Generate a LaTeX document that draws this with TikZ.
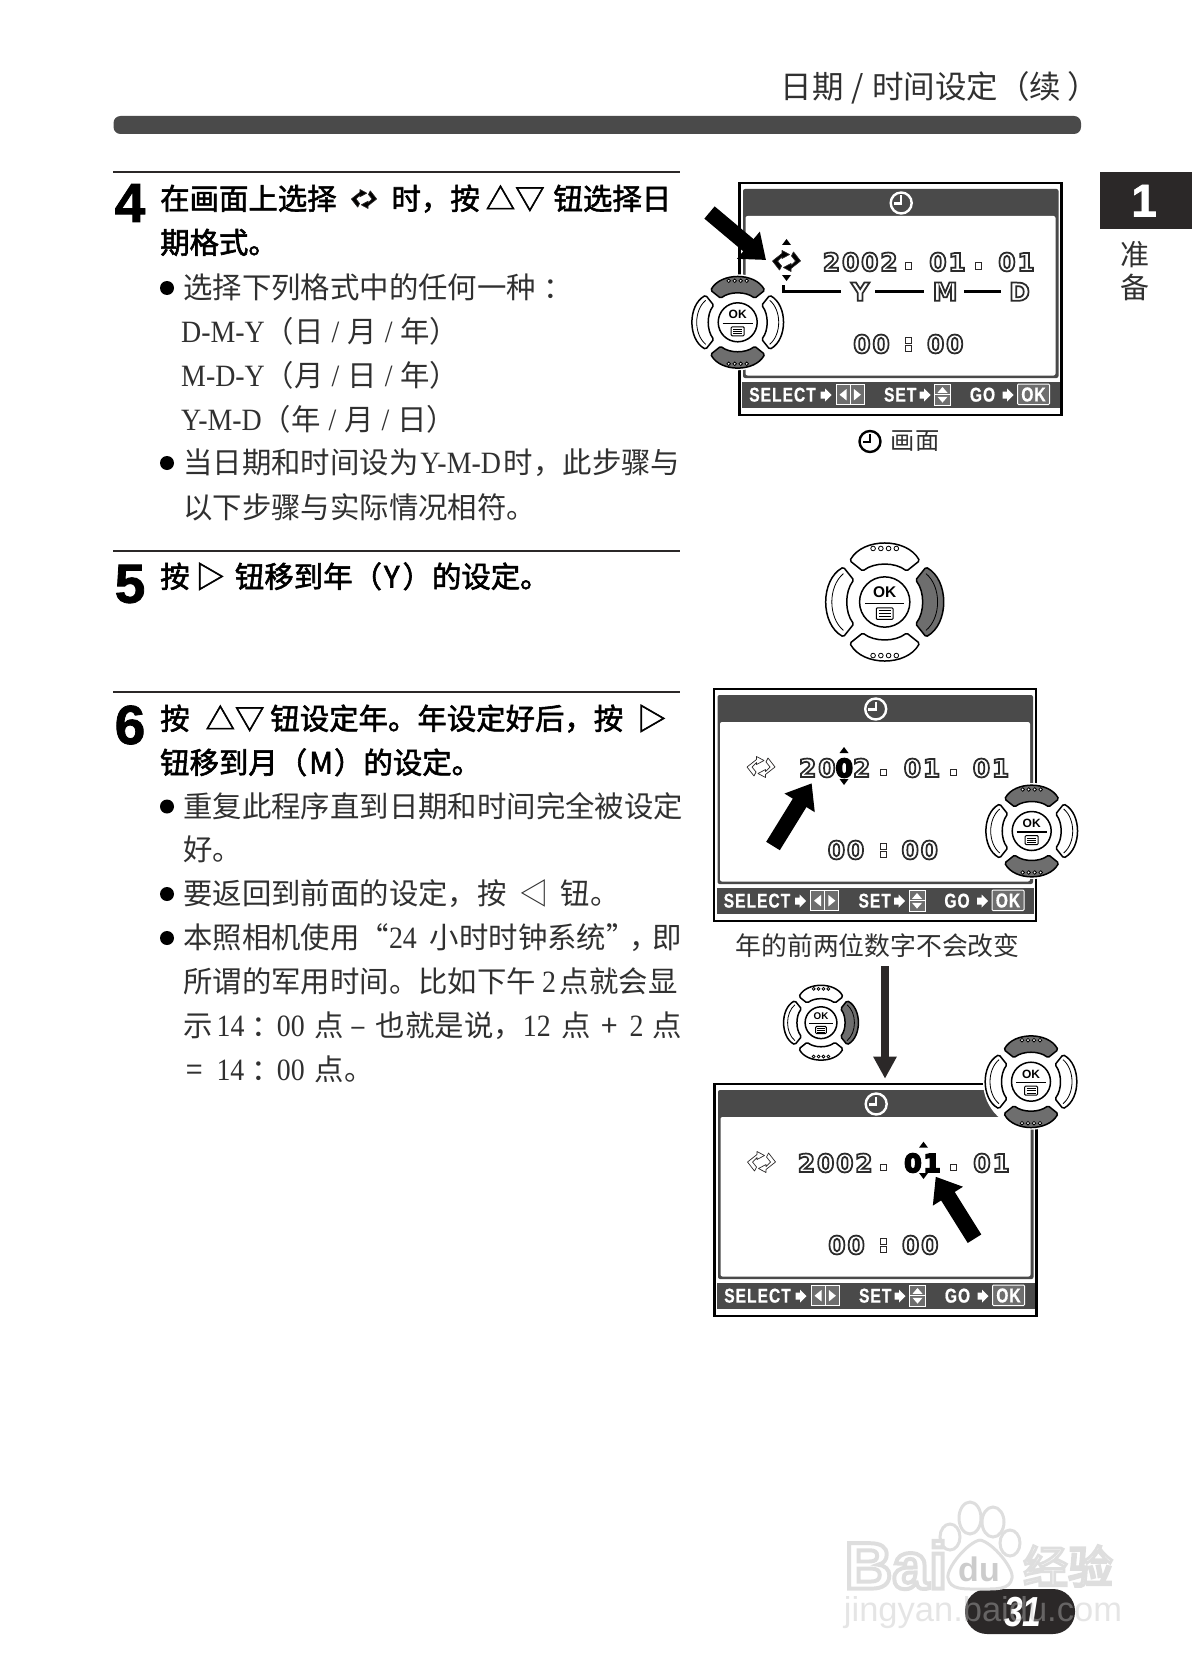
\documentclass[tikz,border=0pt]{standalone}
\usepackage{fontspec}
\usetikzlibrary{arrows.meta}
\setmainfont{Noto Sans CJK SC}[BoldFont={Noto Sans CJK SC},BoldFeatures={FakeBold=2}]
\newfontfamily\serifnum[FakeStretch=0.9]{Liberation Serif}
\newfontfamily\armfont{Liberation Sans}
\newfontfamily\stepfont[BoldFeatures={FakeBold=1.5}]{Liberation Sans}
\newfontfamily\barfont[FakeStretch=0.78,LetterSpace=5,BoldFeatures={FakeBold=0.6}]{Liberation Sans}
\newfontfamily\numfont[LetterSpace=7,BoldFeatures={FakeBold=7}]{DejaVu Sans}
\newfontfamily\markfont[BoldFeatures={FakeBold=6}]{Liberation Sans}
\newfontfamily\markcjk[FakeBold=6]{Noto Sans CJK SC}
\definecolor{lcdgray}{HTML}{4A4A4A}
\definecolor{inkdark}{HTML}{2B2828}
\definecolor{bodyink}{HTML}{303030}
\definecolor{keygray}{HTML}{6E6E6E}
\definecolor{markgray}{HTML}{DEDEDE}
\newcommand\bodysize{\fontsize{29.4pt}{30pt}\selectfont}
\newcommand\latn[1]{{\serifnum\fontsize{31pt}{31pt}\selectfont #1}}
\newcommand\hollow[1]{\special{pdf:bcolor [1] [0.17]}#1\special{pdf:ecolor}}
\newcommand\solid[1]{\special{pdf:bcolor [0] [0]}#1\special{pdf:ecolor}}
\newcommand\markline[1]{\special{pdf:bcolor [1] [0.87]}#1\special{pdf:ecolor}}
\newcommand\slashgap{\hspace{8pt}\latn{/}\hspace{8pt}}
\newcommand\midcolon{\hspace{7pt}：\hspace{-4pt}}

\tikzset{
  stepnum/.style={inner sep=0,font=\stepfont\bfseries\fontsize{55pt}{55pt}\selectfont},
  boldline/.style={anchor=west,inner sep=0,text height=25pt,text depth=4pt,font=\bodysize\bfseries,text=black},
  bodyline/.style={anchor=west,inner sep=0,text height=25pt,text depth=4pt,font=\bodysize,text=bodyink},
  rulerline/.style={line width=2pt,inkdark},
  dotmark/.style={circle,fill=black,inner sep=0,minimum size=14pt},
  lcdnum/.style={inner sep=0,font=\numfont\bfseries\fontsize{25pt}{25pt}\selectfont},
  lcdsq/.style={draw=inkdark,fill=white,line width=1pt,inner sep=0,minimum size=6pt},
  barlabel/.style={inner sep=0,text=white,font=\barfont\bfseries\fontsize{20pt}{20pt}\selectfont},
  bigarrow/.style={line width=16pt,-{Triangle[length=23pt,width=34pt]}},
  marktext/.style={inner sep=0,text=gray!50,text opacity=0.4},
  pics/syncicon/.style={code={
    \foreach \r in {0,180}{
      \filldraw[rotate=\r,fill=#1,draw=inkdark,line width=0.7pt,line join=round]
        (-4.5,-7.5) -- (-4.5,-10.5) -- (3,-6.5) -- (-4.5,-2.5) -- (-4.5,-4.5) -- (-9,0) -- (-5,5) -- (-7,9) -- (-14,0) -- cycle;
    }
  }},
  pics/lcdtri/.style={code={\fill[black] (-4.5,3) -- (0,-3) -- (4.5,3) -- cycle;}},
  pics/barstep/.style={code={\fill[white] (-5,-3.5) -- (-0.5,-3.5) -- (-0.5,-6.5) -- (6,0) -- (-0.5,6.5) -- (-0.5,3.5) -- (-5,3.5) -- cycle;}},
  pics/clockface/.style={code={
    \draw[#1,line width=2.4pt] (0,0) circle[radius=10.5];
    \draw[#1,line width=2.2pt] (0,-7.5) -- (0,0.5) -- (-7.5,0.5);
  }},
  pics/lcdscreen/.style n args={4}{code={
    \draw[fill=white,line width=2.5pt] (0,0) rectangle (322,232);
    \fill[lcdgray,rounded corners=2pt] (3.5,6) rectangle (319,195);
    \fill[white,rounded corners=2pt] (6,33) rectangle (316,192.5);
    \fill[lcdgray] (2.5,199) rectangle (320,224.5);
    \pic at (161.7,20) {clockface=white};
    % Draw date and time
    \pic at (47,78) {syncicon=#4};
    \node[lcdnum] (-year) at (120.7,79) {#1};
    \node[lcdsq] (-dotA) at (169,83) {};
    \node[lcdnum] (-month) at (208,79) {#2};
    \node[lcdsq] (-dotB) at (239,83) {};
    \node[lcdnum] (-day) at (277,79) {#3};
    \node[lcdnum] (-hour) at (132,161) {\hollow{00}};
    \node[lcdsq] (-colA) at (169,157.5) {};
    \node[lcdsq] (-colB) at (169,165.5) {};
    \node[lcdnum] (-minute) at (205.7,161) {\hollow{00}};
    % Draw bottom bar
    \node[barlabel] (-select) at (43,211.7) {SELECT};
    \pic at (86,212) {barstep};
    \draw[white,fill=keygray,line width=1pt] (96.7,201.7) rectangle (124.7,221.7);
    \draw[white,line width=1pt] (110.7,201.7) -- (110.7,221.7);
    \fill[white] (100,211.7) -- (107,206) -- (107,217.4) -- cycle;
    \fill[white] (121.4,211.7) -- (114.4,206) -- (114.4,217.4) -- cycle;
    \node[barlabel] (-set) at (160.7,211.7) {SET};
    \pic at (185,212) {barstep};
    \draw[white,fill=keygray,line width=1pt] (195,201.7) rectangle (211,222);
    \draw[white,line width=1pt] (195,211.8) -- (211,211.8);
    \fill[white] (203,204) -- (198,209.8) -- (208,209.8) -- cycle;
    \fill[white] (203,219.6) -- (198,213.8) -- (208,213.8) -- cycle;
    \node[barlabel] (-go) at (243,211.7) {GO};
    \pic at (268,212) {barstep};
    \draw[white,fill=keygray,line width=1pt,rounded corners=1pt] (278,201) rectangle (310,221.5);
    \node[barlabel] (-ok) at (294,211.5) {OK};
  }},
  pics/dpad/.style n args={2}{code={
    \fill[white] (0,0) circle[radius=48];
    % Draw top and bottom keys
    \foreach \r in {0,180}{
      \begin{scope}[rotate=\r]
        \filldraw[fill=#1,line width=1.5pt,rounded corners=1.5pt] (-27,-32) .. controls (-17,-50) and (17,-50) .. (27,-32) -- (17,-24) .. controls (8,-31) and (-8,-31) .. (-17,-24) -- cycle;
        \foreach \d in {-9,-3,3,9}{
          \draw[fill=white,line width=0.8pt] (\d,-41.5) circle[radius=1.8];
        }
      \end{scope}
    }
    % Draw right key
    \filldraw[fill=#2,line width=1.5pt,rounded corners=1.5pt] (32,-27) .. controls (50,-17) and (50,17) .. (32,27) -- (24,17) .. controls (31,8) and (31,-8) .. (24,-17) -- cycle;
    \draw[line width=0.8pt] (32,-22) .. controls (44,-12) and (44,12) .. (32,22);
    % Draw left key
    \filldraw[fill=white,line width=1.5pt,rounded corners=1.5pt] (-32,-27) .. controls (-50,-17) and (-50,17) .. (-32,27) -- (-24,17) .. controls (-31,8) and (-31,-8) .. (-24,-17) -- cycle;
    \draw[line width=0.8pt] (-32,-22) .. controls (-44,-12) and (-44,12) .. (-32,22);
    % Draw centre button
    \draw[fill=white,line width=1.5pt] (0,0) circle[radius=19.5];
    \draw[line width=1.4pt] (-15,1) -- (15,1);
    \node[inner sep=0,font=\armfont\bfseries\fontsize{12pt}{12pt}\selectfont] (-ok) at (0,-7.5) {OK};
    \draw[line width=1pt,rounded corners=1pt] (-6.5,4.5) rectangle (6.5,13.5);
    \foreach \d in {6.8,9,11.2}{
      \draw[line width=0.6pt] (-4.5,\d) -- (4.5,\d);
    }
  }},
}

\begin{document}
\begin{tikzpicture}[x=1pt,y=-1pt]
\useasboundingbox (0,0) rectangle (1192,1680);

% Draw page header
\node[inner sep=0,anchor=east,text=bodyink,font=\fontsize{31.5pt}{31.5pt}\selectfont] (header) at (1099,88) {日期\hspace{8pt}/\hspace{8pt}时间设定（续\hspace{6pt}）};
\fill[lcdgray,rounded corners=7pt] (113.5,116) rectangle (1081,134);

% Draw chapter tab
\fill[inkdark] (1100,172) rectangle (1192,229);
\node[inner sep=0,text=white,font=\stepfont\bfseries\fontsize{46pt}{46pt}\selectfont] (tabnum) at (1144,200.7) {1};
\node[inner sep=0,text=bodyink,font=\fontsize{29pt}{29pt}\selectfont] (tabA) at (1135,255) {准};
\node[inner sep=0,text=bodyink,font=\fontsize{29pt}{29pt}\selectfont] (tabB) at (1135,287) {备};

% Draw step rules
\draw[rulerline] (113,172.5) -- (680,172.5);
\draw[rulerline] (113,550.5) -- (680,550.5);
\draw[rulerline] (113,692) -- (680,692);

% Step 4
\node[stepnum] (numD) at (130,203) {4};
\node[boldline] (lineDa) at (160,199) {在画面上选择\hspace{55pt}时，按\hspace{6pt}△▽\hspace{9pt}钮选择日};
\pic[scale=0.9] at (364,199) {syncicon=black};
\node[boldline] (lineDb) at (160,243) {期格式。};
\node[dotmark] (dotDa) at (167,288) {};
\node[bodyline] (lineDc) at (183,288) {选择下列格式中的任何一种\midcolon};
\node[bodyline] (lineDd) at (181,332) {\latn{D-M-Y}（日\slashgap 月\slashgap 年）};
\node[bodyline] (lineDe) at (181,376) {\latn{M-D-Y}（月\slashgap 日\slashgap 年）};
\node[bodyline] (lineDf) at (181,420) {\latn{Y-M-D}（年\slashgap 月\slashgap 日）};
\node[dotmark] (dotDb) at (167,463) {};
\node[bodyline] (lineDg) at (183,463) {当日期和时间设为\hspace{2pt}\latn{Y-M-D}\hspace{3pt}时，此步骤与};
\node[bodyline] (lineDh) at (183,508) {以下步骤与实际情况相符。};

% Step 5
\node[stepnum] (numE) at (130,584) {5};
\node[boldline] (lineEa) at (160,577) {按\hspace{6pt}▷\hspace{10pt}钮移到年（\hspace{2pt}Y\hspace{3pt}）的设定。};

% Step 6
\node[stepnum] (numF) at (130,725) {6};
\node[boldline] (lineFa) at (160,719) {按\hspace{16pt}△▽\hspace{6pt}钮设定年。年设定好后，按\hspace{14pt}▷};
\node[boldline] (lineFb) at (160,763) {钮移到月（\hspace{2pt}M\hspace{1pt}）的设定。};
\node[dotmark] (dotFa) at (167,806.5) {};
\node[bodyline] (lineFc) at (183,806.5) {重复此程序直到日期和时间完全被设定};
\node[bodyline] (lineFd) at (183,850) {好。};
\node[dotmark] (dotFb) at (167,894) {};
\node[bodyline] (lineFe) at (183,894) {要返回到前面的设定，按\hspace{13pt}◁\hspace{12pt}钮。};
\node[dotmark] (dotFc) at (167,938) {};
\node[bodyline] (lineFf) at (183,938) {本照相机使用“\latn{24}\hspace{13pt}小时时钟系统”\hspace{-6pt}，\hspace{-7pt}即};
\node[bodyline] (lineFg) at (183,982) {所谓的军用时间。比如下午\hspace{6pt}\latn{2}\hspace{4pt}点就会显};
\node[bodyline] (lineFh) at (183,1026) {示\hspace{4pt}\latn{14}\midcolon\latn{00}\hspace{10pt}点\hspace{6pt}–\hspace{10pt}也就是说，\latn{12}\hspace{11pt}点\hspace{10pt}+\hspace{12pt}\latn{2}\hspace{9pt}点};
\node[bodyline] (lineFi) at (186,1070) {=\hspace{14pt}\latn{14}\midcolon\latn{00}\hspace{10pt}点。};

% First screen
\pic (scrA) at (739.5,183) {lcdscreen={\hollow{2002}}{\hollow{01}}{\hollow{01}}{black}};
\begin{scope}[shift={(739.5,183)}]
  \pic at (47,59) {lcdtri};
  \pic[rotate=180] at (47,95) {lcdtri};
  \draw[line width=3pt] (44,102) -- (44,108) -- (101.7,108);
  \draw[line width=3pt] (135.7,108) -- (184.7,108);
  \draw[line width=3pt] (224.7,108) -- (261.7,108);
  \node[lcdnum] (ymdY) at (120.7,108.7) {\hollow{Y}};
  \node[lcdnum] (ymdM) at (205.7,108.7) {\hollow{M}};
  \node[lcdnum] (ymdD) at (280,108.7) {\hollow{D}};
\end{scope}
\pic at (737.7,322.3) {dpad={keygray}{white}};
\coordinate (tailA) at (709.5,212.5);
\coordinate (tipA) at (766,260);
\draw[bigarrow] (tailA) -- (tipA);
\pic at (870,441.5) {clockface=black};
\node[inner sep=0,text=bodyink,font=\fontsize{24.3pt}{24.3pt}\selectfont] (capA) at (915,441) {画面};

% Step 5 keypad
\pic[scale=1.29,transform shape] at (884.7,602) {dpad={white}{keygray}};

% Second screen
\pic (scrB) at (714,689) {lcdscreen={\hollow{20}\solid{0}\hollow{2}}{\hollow{01}}{\hollow{01}}{white}};
\pic at (844,750) {lcdtri};
\pic[rotate=180] at (844,782) {lcdtri};
\coordinate (tailB) at (773,846);
\coordinate (tipB) at (811.7,783.3);
\draw[bigarrow] (tailB) -- (tipB);
\pic at (1031.7,831) {dpad={keygray}{white}};
\node[inner sep=0,text=bodyink,font=\fontsize{25.8pt}{25.8pt}\selectfont] (capB) at (877.5,945.7) {年的前两位数字不会改变};

% Arrow down to third screen
\coordinate (downA) at (885,966);
\coordinate (downB) at (885,1078.7);
\draw[line width=8pt,inkdark,-{Triangle[length=22pt,width=22pt]}] (downA) -- (downB);
\pic[scale=0.815,transform shape] at (821,1022.7) {dpad={white}{keygray}};

% Third screen
\pic (scrC) at (714.5,1084) {lcdscreen={\hollow{2002}}{\solid{01}}{\hollow{01}}{white}};
\pic at (923.5,1144.7) {lcdtri};
\pic[rotate=180] at (923.5,1176) {lcdtri};
\coordinate (tailC) at (974.5,1238.7);
\coordinate (tipC) at (935.7,1176.7);
\draw[bigarrow] (tailC) -- (tipC);
\pic at (1031,1081.7) {dpad={keygray}{white}};

% Draw page number
\fill[inkdark,rounded corners=22pt] (965,1589) rectangle (1075,1634);
\node[inner sep=0,text=white,font=\armfont\bfseries\itshape\fontsize{42pt}{42pt}\selectfont] (pagenum) at (1022.7,1611.7) {\scalebox{0.8}[1]{31}};

% Draw watermark
\begin{scope}[draw=markgray,line width=3pt,fill=white]
  \filldraw (950,1537) ellipse[x radius=10,y radius=13];
  \filldraw (970,1518) ellipse[x radius=11,y radius=16];
  \filldraw (993,1522) ellipse[x radius=11,y radius=15];
  \filldraw (1010,1543) ellipse[x radius=10,y radius=13];
  \filldraw (980,1540) .. controls (992,1542) and (1014,1568) .. (1012,1578) .. controls (1010,1590) and (996,1589) .. (980,1589) .. controls (964,1589) and (950,1590) .. (948,1578) .. controls (946,1568) and (968,1542) .. (980,1540);
\end{scope}
\node[inner sep=0,font=\markfont\bfseries\fontsize{66pt}{66pt}\selectfont] (markA) at (896,1565) {\markline{Bai}};
\node[inner sep=0,text=gray!40,font=\armfont\bfseries\fontsize{34pt}{34pt}\selectfont] (markB) at (979,1569) {du};
\node[inner sep=0,font=\markcjk\fontsize{45pt}{45pt}\selectfont] (markC) at (1068,1566) {\markline{经验}};
\node[marktext,font=\armfont\fontsize{34.5pt}{34.5pt}\selectfont] (markD) at (983,1613) {jingyan.baidu.com};
\end{tikzpicture}
\end{document}
